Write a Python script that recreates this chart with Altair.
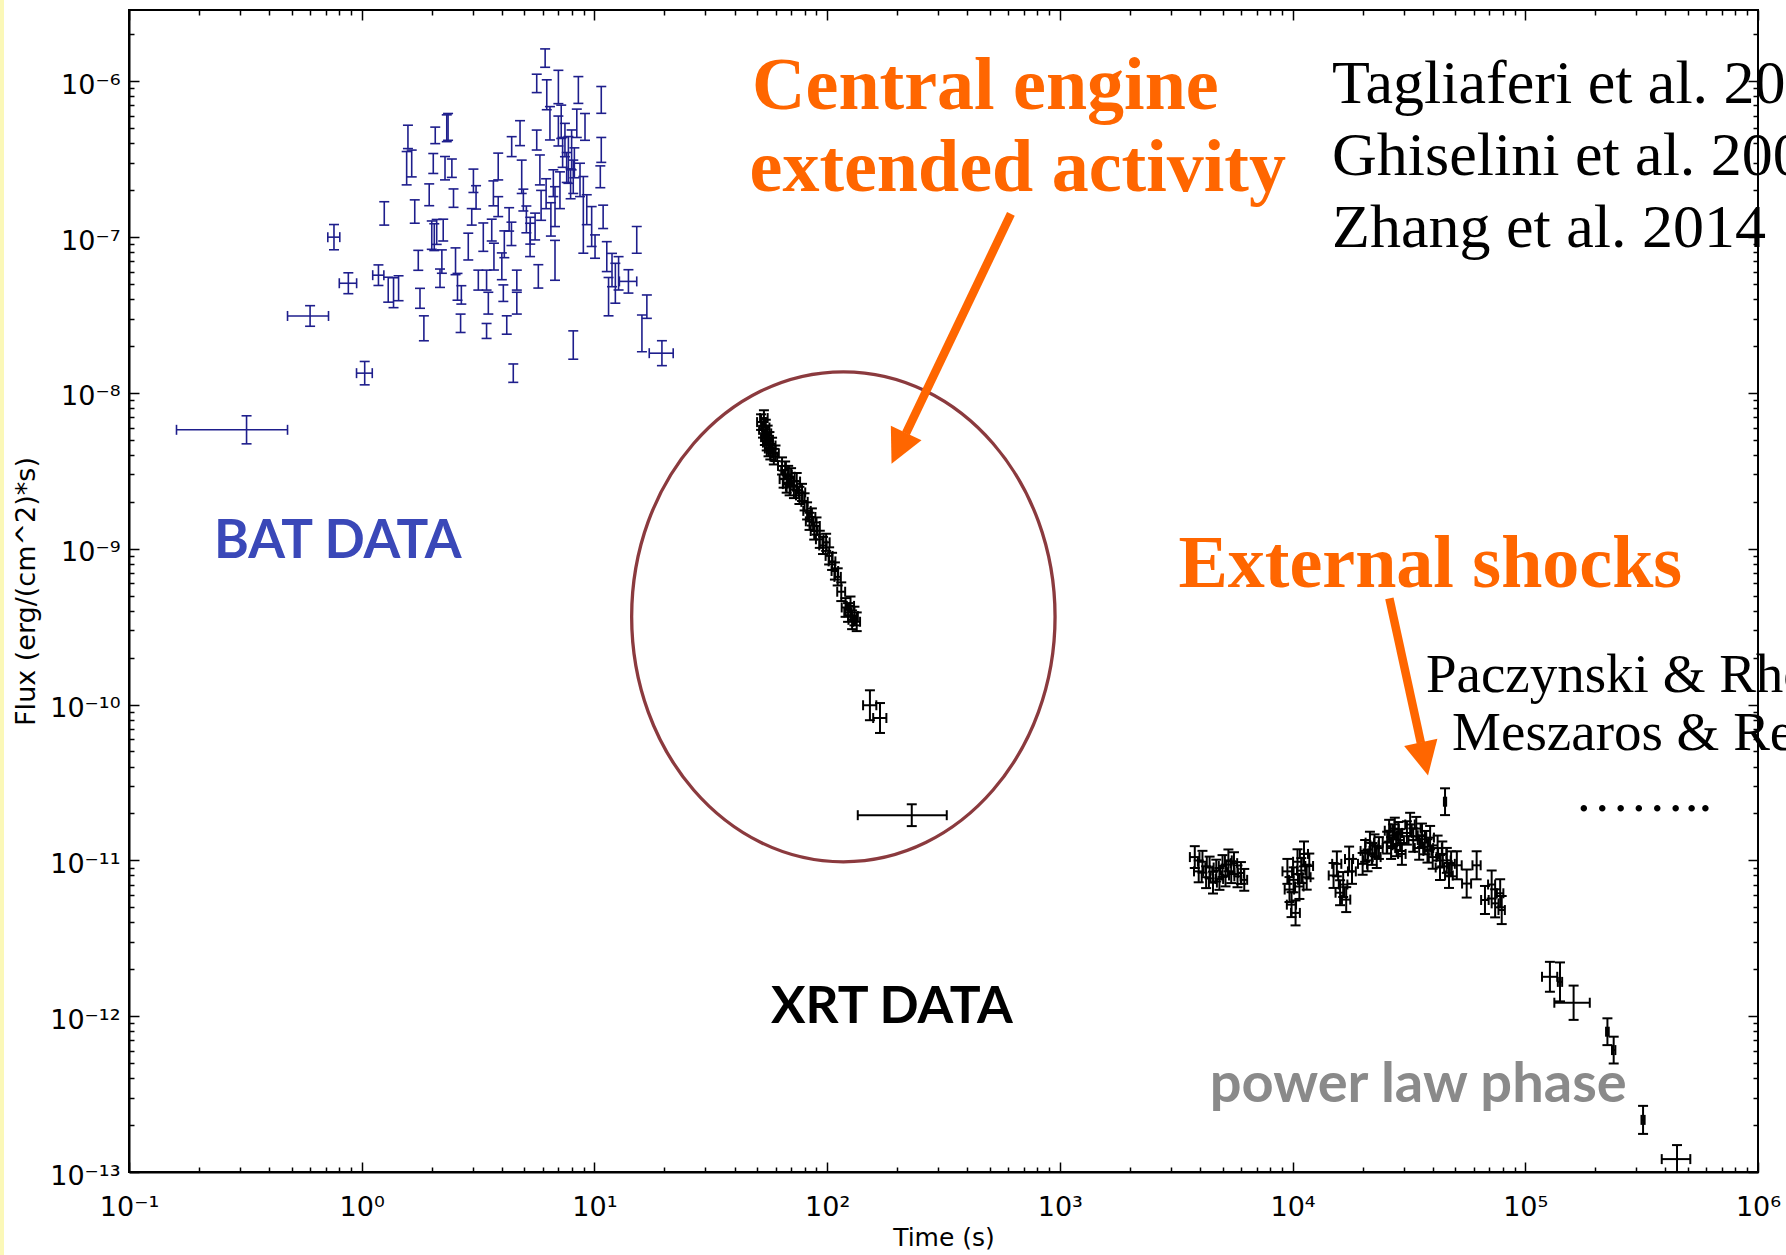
import json
import altair as alt
import pandas as pd

# ---------------------------------------------------------------------------
# BAT light curve: time (s), flux (erg/cm^2/s), flux error half-width (dex),
# time error half-width (s, 0 where no horizontal bar is drawn)
# ---------------------------------------------------------------------------
bat_time = [0.32, 0.60, 0.76, 0.876, 1.03, 1.18, 1.25, 1.30, 1.37, 1.44,
            1.58, 1.56, 1.64, 1.69, 1.75, 1.78, 1.85, 1.95, 2.00, 2.05,
            2.10, 2.07, 2.03, 2.24, 2.21, 2.17, 2.28, 2.35, 2.32, 2.44,
            2.48, 2.53, 2.58, 2.68, 2.66, 2.87, 2.97, 3.02, 3.10, 3.17,
            3.33, 3.44, 3.50, 3.44, 3.62, 3.68, 3.70, 3.86, 3.86, 4.00,
            4.06, 4.10, 4.20, 4.41, 4.30, 4.40, 4.48, 4.64, 4.64, 4.79,
            4.87, 4.95, 5.10, 5.30, 5.29, 5.56, 5.74, 5.65, 5.83, 5.90,
            5.65, 6.14, 6.20, 6.24, 6.44, 6.50, 6.66, 6.77, 6.77, 7.00,
            7.00, 7.11, 7.20, 7.30, 7.47, 7.60, 7.73, 7.90, 7.98, 8.11,
            8.11, 8.20, 8.40, 8.53, 8.67, 8.96, 9.11, 9.27, 9.73, 10.06,
            10.6, 10.7, 10.7, 10.9, 11.3, 11.5, 11.9, 12.3, 12.7, 14.0,
            15.2, 16.0, 16.8, 19.5]
bat_flux = [5.8e-9, 3.12e-8, 1.0e-7, 5.06e-8, 1.34e-8, 5.7e-8, 1.42e-7, 4.6e-8, 4.4e-8, 4.7e-8,
            4.4e-7, 2.77e-7, 2.97e-7, 1.46e-7, 7.1e-8, 4.05e-8, 2.6e-8, 1.87e-7, 1.03e-7, 1.0e-7,
            1.08e-7, 4.5e-7, 2.97e-7, 1.11e-7, 6.97e-8, 5.45e-8, 2.77e-7, 5.1e-7, 5.0e-7, 2.77e-7,
            1.78e-7, 7.0e-8, 4.8e-8, 4.26e-8, 2.8e-8, 8.7e-8, 1.35e-7, 2.3e-7, 1.8e-7, 5.3e-8,
            1.0e-7, 5.3e-8, 3.77e-8, 2.5e-8, 1.11e-7, 1.91e-7, 7.5e-8, 2.84e-7, 1.57e-7, 6.5e-8,
            4.37e-8, 9.0e-8, 2.73e-8, 3.81e-7, 1.3e-7, 1.05e-7, 1.34e-8, 5.3e-8, 3.77e-8, 4.65e-7,
            2.44e-7, 1.73e-7, 1.3e-7, 1.1e-7, 9.6e-8, 1.17e-7, 5.6e-8, 4.2e-7, 2.7e-7, 1.6e-7,
            9.7e-7, 1.41e-6, 1.9e-7, 8.2e-7, 5.38e-7, 1.3e-7, 2.22e-7, 1.57e-7, 7.1e-8, 9.2e-7,
            4.8e-7, 2.0e-7, 5.5e-7, 3.5e-7, 4.2e-7, 2.8e-7, 3.13e-7, 2.2e-7, 3.63e-7, 2.44e-7,
            2.03e-8, 3.0e-7, 5.38e-7, 8.8e-7, 2.33e-7, 1.39e-7, 5.1e-7, 1.5e-7, 1.17e-7, 8.7e-8,
            2.44e-7, 7.6e-7, 3.63e-7, 1.35e-7, 7.5e-8, 4.15e-8, 6.15e-8, 5.06e-8, 5.86e-8, 5.2e-8,
            9.6e-8, 2.41e-8, 3.58e-8, 1.8e-8]
bat_err_dex = [0.090, 0.066, 0.081, 0.067, 0.075, 0.066, 0.075, 0.080, 0.096, 0.080,
               0.075, 0.107, 0.086, 0.075, 0.064, 0.064, 0.080, 0.070, 0.091, 0.086,
               0.080, 0.053, 0.064, 0.070, 0.075, 0.059, 0.075, 0.086, 0.086, 0.059,
               0.059, 0.086, 0.086, 0.059, 0.059, 0.086, 0.053, 0.075, 0.075, 0.064,
               0.091, 0.064, 0.070, 0.048, 0.070, 0.080, 0.086, 0.086, 0.064, 0.086,
               0.053, 0.086, 0.059, 0.064, 0.075, 0.075, 0.059, 0.064, 0.070, 0.080,
               0.107, 0.070, 0.086, 0.086, 0.107, 0.086, 0.075, 0.064, 0.096, 0.096,
               0.059, 0.059, 0.096, 0.096, 0.107, 0.107, 0.086, 0.128, 0.128, 0.107,
               0.096, 0.118, 0.107, 0.096, 0.107, 0.096, 0.150, 0.096, 0.128, 0.107,
               0.091, 0.096, 0.091, 0.086, 0.107, 0.246, 0.086, 0.096, 0.128, 0.075,
               0.070, 0.086, 0.080, 0.075, 0.096, 0.123, 0.107, 0.128, 0.107, 0.075,
               0.086, 0.118, 0.075, 0.080]
bat_time_err = [0.16, 0.12, 0.045, 0.075, 0.08, 0.065] + [0.0] * 103 + [1.2, 0.0, 0.0, 0.0, 2.3]

# ---------------------------------------------------------------------------
# XRT light curve: steep decay, plateau and late power-law decay
# ---------------------------------------------------------------------------
xrt_time = [52, 53, 53.5, 54, 54.5, 55, 55.5, 56, 56.5, 57, 58, 59, 60,
            64, 65, 66, 67, 68, 69, 70, 72, 74, 76, 78, 80,
            82, 84, 86, 88, 90,
            93, 96, 99, 102, 105, 108, 111,
            115, 120, 123, 126, 128, 131, 134,
            152.7, 168.7, 231,
            3800, 3950, 4100, 4250, 4400, 4550, 4700, 4850, 5000, 5150, 5300, 5450, 5600, 5800, 6000, 6200,
            9500, 9700, 9900, 10100, 10300, 10500, 10700, 10900, 11200, 11500, 11800,
            15000, 15500, 16000, 16500, 17000, 17500, 18000,
            20000, 20500, 21000, 21500, 22000, 22500, 23000, 23500,
            25500, 26000, 26500, 27000, 27500, 28000, 28500, 29000, 29500,
            31000, 32000, 33000, 34000, 35000, 36000, 37000, 38000, 39000, 40000, 45200,
            42000, 43000, 44000, 46000, 47000, 48000,
            50800, 56000, 61800, 67100, 71700, 74200, 78000, 79200,
            127600, 141000, 161300, 225400, 239800, 320700, 448800]
xrt_flux = [6.5e-9, 5.8e-9, 6.9e-9, 5.2e-9, 6.0e-9, 4.8e-9, 5.5e-9, 4.4e-9, 5.0e-9, 4.2e-9, 4.6e-9, 3.9e-9, 4.1e-9,
            3.4e-9, 2.8e-9, 3.2e-9, 2.6e-9, 3.0e-9, 2.5e-9, 2.9e-9, 2.4e-9, 2.7e-9, 2.2e-9, 2.3e-9, 2.0e-9,
            1.75e-9, 1.5e-9, 1.6e-9, 1.3e-9, 1.4e-9,
            1.15e-9, 1.05e-9, 1.1e-9, 9.0e-10, 8.3e-10, 7.2e-10, 6.6e-10,
            5.3e-10, 4.2e-10, 3.9e-10, 4.3e-10, 3.5e-10, 3.7e-10, 3.4e-10,
            9.9e-11, 8.2e-11, 1.95e-11,
            1.05e-11, 8.5e-12, 9.8e-12, 7.8e-12, 9.0e-12, 7.2e-12, 8.6e-12, 7.6e-12, 9.2e-12, 8.0e-12, 1.0e-11, 8.4e-12, 9.6e-12, 7.9e-12, 8.3e-12, 7.5e-12,
            8.5e-12, 6.5e-12, 5.2e-12, 7.5e-12, 4.6e-12, 9.8e-12, 6.8e-12, 8.6e-12, 1.1e-11, 7.8e-12, 9.2e-12,
            8.0e-12, 9.5e-12, 6.2e-12, 7.0e-12, 5.6e-12, 1.02e-11, 8.5e-12,
            9.5e-12, 1.15e-11, 1.0e-11, 1.3e-11, 1.1e-11, 1.25e-11, 1.05e-11, 1.2e-11,
            1.3e-11, 1.55e-11, 1.2e-11, 1.45e-11, 1.6e-11, 1.25e-11, 1.5e-11, 1.35e-11, 1.1e-11,
            1.5e-11, 1.7e-11, 1.35e-11, 1.6e-11, 1.2e-11, 1.45e-11, 1.3e-11, 1.15e-11, 1.4e-11, 1.05e-11, 2.38e-11,
            1.2e-11, 9.0e-12, 1.1e-11, 1.0e-11, 8.0e-12, 9.5e-12,
            9.3e-12, 7.1e-12, 9.3e-12, 5.57e-12, 7.0e-12, 5.3e-12, 6.15e-12, 4.8e-12,
            1.79e-12, 1.66e-12, 1.22e-12, 7.95e-13, 6.06e-13, 2.16e-13, 1.21e-13]
xrt_err_dex = ([0.05] * 13 + [0.055] * 12 + [0.055] * 5 + [0.055] * 7 + [0.06] * 7
               + [0.096, 0.096, 0.07]
               + [0.07] * 16 + [0.08] * 11 + [0.08] * 7 + [0.07] * 8 + [0.07] * 9
               + [0.075] * 10 + [0.086]
               + [0.08] * 6 + [0.09] * 8
               + [0.096, 0.125, 0.11, 0.086, 0.086, 0.09, 0.09])
xrt_time_err = ([2.0] * 13 + [2.5] * 12 + [3.0] * 5 + [3.5] * 7 + [4.5] * 7
                + [10, 11, 95.6]
                + [180] * 16 + [450] * 11 + [700] * 7 + [900] * 8 + [1100] * 9
                + [1500] * 10 + [500]
                + [1800] * 6 + [2500] * 8
                + [9600, 3000, 28000, 3000, 4000, 5000, 63000])

# Axis decades (exponents of the labelled ticks)
x_exponents = list(range(-1, 7))
y_exponents = list(range(-13, -5))
x_axis_title = "Time (s)"
y_axis_title = "Flux (erg/(cm^2)*s)"

# Annotation texts with their anchor positions (time, flux)
orange_labels = ["Central engine", "extended activity", "External shocks"]
orange_time = [47.6, 46.4, 3233]
orange_flux = [6.65e-7, 1.98e-7, 5.71e-10]

ref_labels = ["Tagliaferi et al. 2005", "Ghiselini et al. 2007", "Zhang et al. 2014"]
ref_time = [14780, 14780, 14780]
ref_flux = [7.27e-7, 2.506e-7, 8.69e-8]

ext_labels = ["Paczynski & Rhoads 1993", "Meszaros & Rees 1997", "\u2026\u2026.."]
ext_time = [37400, 48470, 163000]
ext_flux = [1.21e-10, 5.11e-11, 2.07e-11]

phase_labels = ["BAT DATA", "XRT DATA", "power law phase"]
phase_colors = ["#3a48b8", "#000000", "#8a8a8a"]
phase_sizes = [53, 51.5, 56]
phase_time = [0.2318, 57.4, 4404]
phase_flux = [8.73e-10, 9.04e-13, 2.83e-13]

# Ellipse around the steep-decay phase (centre) and the two arrows
ellipse_time = [117.4]
ellipse_flux = [3.66e-10]
arrow_start_time = [616, 26060]
arrow_start_flux = [1.41e-7, 4.81e-10]
arrow_end_time = [218.1, 35590]
arrow_end_flux = [5.50e-9, 5.68e-11]
arrow_head_time = [203.3, 36850]
arrow_head_flux = [4.41e-9, 4.48e-11]
arrow_head_angle = [205.5, 167.7]

# ---------------------------------------------------------------------------
W, H = 1629, 1162
PAD = {"left": 129, "top": 10, "right": 28, "bottom": 83}
ORANGE = "#ff6600"
BAT_COLOR = "#1e1e8c"

SUP = str.maketrans("-0123456789", "\u207b\u2070\u00b9\u00b2\u00b3\u2074\u2075\u2076\u2077\u2078\u2079")


def decade_labels(exps):
    return ["10" + str(e).translate(SUP) for e in exps]


def minor_ticks(exps, upper):
    vals = []
    for e in exps:
        for k in range(1, 10):
            v = k * 10.0 ** e
            if v <= upper * 1.0001:
                vals.append(v)
    return vals


x_min, x_max = 10.0 ** x_exponents[0], 10.0 ** x_exponents[-1]
y_min, y_max = 10.0 ** y_exponents[0], 2.87e-6
x_ticks = minor_ticks(x_exponents, x_max)
y_ticks = minor_ticks(y_exponents, y_max)

IS_DECADE = "abs(log(datum.value)/LN10 - round(log(datum.value)/LN10)) < 0.001"


def label_expr(exps):
    arr = json.dumps(decade_labels(exps), ensure_ascii=False)
    return f"({IS_DECADE}) ? {arr}[round(log(datum.value)/LN10) - ({exps[0]})] : ''"


TICK_SIZE = {"condition": {"test": IS_DECADE, "value": 10}, "value": 5}

xs = alt.Scale(type="log", domain=[x_min, x_max], nice=False)
ys = alt.Scale(type="log", domain=[y_min, y_max], nice=False)

label_style = dict(labelFont="DejaVu Sans", labelFontSize=27, labelColor="black",
                   labelOverlap=False, labelFlush=False, grid=False, ticks=False,
                   tickSize=0, domain=True, domainColor="black", domainWidth=2,
                   titleFont="DejaVu Sans", titleFontWeight="normal", titleColor="black")

x_main = alt.Axis(orient="bottom", values=x_ticks, labelExpr=label_expr(x_exponents),
                  labelPadding=22, title=x_axis_title, titleFontSize=25,
                  titlePadding=5, **label_style)
y_main = alt.Axis(orient="left", values=y_ticks, labelExpr=label_expr(y_exponents),
                  labelPadding=9, labelOffset=4, title=y_axis_title, titleFontSize=27,
                  titlePadding=9, **label_style)

# Inward-pointing ticks on all four sides of the frame
tick_style = dict(labels=False, domain=False, grid=False, title=None, tickColor="black",
                  tickWidth=1.5, tickSize=TICK_SIZE)
x_ticks_bottom = alt.Axis(orient="top", offset=-H, values=x_ticks, **tick_style)
x_ticks_top = alt.Axis(orient="bottom", offset=-H, values=x_ticks, **tick_style)
y_ticks_left = alt.Axis(orient="right", offset=-W, values=y_ticks, **tick_style)
y_ticks_right = alt.Axis(orient="left", offset=-W, values=y_ticks, **tick_style)


def make_frame(time, flux, err_dex, time_err):
    df = pd.DataFrame({"time": time, "flux": flux, "dex": err_dex, "terr": time_err})
    df["flo"] = df["flux"] / 10 ** df["dex"]
    df["fhi"] = df["flux"] * 10 ** df["dex"]
    df["tlo"] = df["time"] - df["terr"]
    df["thi"] = df["time"] + df["terr"]
    return df


def error_bars(df, color, cap, lw, axes=None):
    """Vertical and horizontal error bars with end caps."""
    ax = axes or {}
    vrule = alt.Chart(df).mark_rule(color=color, strokeWidth=lw, clip=True).encode(
        x=alt.X("time:Q", scale=xs, axis=ax.get("x0")),
        y=alt.Y("flo:Q", scale=ys, axis=ax.get("y0")),
        y2="fhi:Q",
    )
    cap_lo = alt.Chart(df).mark_tick(color=color, orient="horizontal", size=cap,
                                     thickness=lw, opacity=1, clip=True).encode(
        x=alt.X("time:Q", scale=xs, axis=ax.get("x1")),
        y=alt.Y("flo:Q", scale=ys, axis=ax.get("y1")),
    )
    cap_hi = alt.Chart(df).mark_tick(color=color, orient="horizontal", size=cap,
                                     thickness=lw, opacity=1, clip=True).encode(
        x=alt.X("time:Q", scale=xs, axis=ax.get("x2")),
        y=alt.Y("fhi:Q", scale=ys, axis=ax.get("y2")),
    )
    hdf = df[df["terr"] > 0]
    hrule = alt.Chart(hdf).mark_rule(color=color, strokeWidth=lw, clip=True).encode(
        x=alt.X("tlo:Q", scale=xs, axis=None),
        x2="thi:Q",
        y=alt.Y("flux:Q", scale=ys, axis=None),
    )
    hcap_lo = alt.Chart(hdf).mark_tick(color=color, orient="vertical", size=cap,
                                       thickness=lw, opacity=1, clip=True).encode(
        x=alt.X("tlo:Q", scale=xs, axis=None),
        y=alt.Y("flux:Q", scale=ys, axis=None),
    )
    hcap_hi = alt.Chart(hdf).mark_tick(color=color, orient="vertical", size=cap,
                                       thickness=lw, opacity=1, clip=True).encode(
        x=alt.X("thi:Q", scale=xs, axis=None),
        y=alt.Y("flux:Q", scale=ys, axis=None),
    )
    return [vrule, cap_lo, cap_hi, hrule, hcap_lo, hcap_hi]


bat = make_frame(bat_time, bat_flux, bat_err_dex, bat_time_err)
xrt = make_frame(xrt_time, xrt_flux, xrt_err_dex, xrt_time_err)

bat_layers = error_bars(bat, BAT_COLOR, 10, 1.6, axes={
    "x0": x_main, "y0": y_main,
    "x1": x_ticks_bottom, "y1": y_ticks_left,
    "x2": x_ticks_top, "y2": y_ticks_right,
})
xrt_layers = error_bars(xrt, "black", 10, 2.0)


def text_layer(labels, time, flux, **style):
    df = pd.DataFrame({"label": labels, "time": time, "flux": flux})
    return alt.Chart(df).mark_text(align="left", baseline="alphabetic", **style).encode(
        x=alt.X("time:Q", scale=xs, axis=None),
        y=alt.Y("flux:Q", scale=ys, axis=None),
        text="label:N",
    )


orange_text = text_layer(orange_labels, orange_time, orange_flux, font="Liberation Serif",
                         fontWeight="bold", fontSize=74, color=ORANGE)
ref_text = text_layer(ref_labels, ref_time, ref_flux, font="Liberation Serif",
                      fontSize=62, color="black")
ext_text = text_layer(ext_labels, ext_time, ext_flux, font="Liberation Serif",
                      fontSize=55, color="black")
phase_df = pd.DataFrame({"label": phase_labels, "time": phase_time, "flux": phase_flux,
                         "color": phase_colors, "size": phase_sizes})
phase_text = alt.Chart(phase_df).mark_text(align="left", baseline="alphabetic", font="Lato",
                                           fontWeight="bold").encode(
    x=alt.X("time:Q", scale=xs, axis=None),
    y=alt.Y("flux:Q", scale=ys, axis=None),
    text="label:N",
    color=alt.Color("color:N", scale=None),
    size=alt.Size("size:Q", scale=None),
)

# Ellipse: unit path with the horizontal/vertical radius ratio baked in
RX, RY = 211.7, 245.0
a = RX / RY
ellipse_path = f"M {-a:.4f} 0 A {a:.4f} 1 0 1 1 {a:.4f} 0 A {a:.4f} 1 0 1 1 {-a:.4f} 0 Z"
ellipse = alt.Chart(pd.DataFrame({"time": ellipse_time, "flux": ellipse_flux})).mark_point(
    shape=ellipse_path, size=(2 * RY) ** 2, filled=False, stroke="#8b3a3e",
    strokeWidth=3.3, opacity=1,
).encode(
    x=alt.X("time:Q", scale=xs, axis=None),
    y=alt.Y("flux:Q", scale=ys, axis=None),
)

arrows_df = pd.DataFrame({
    "t0": arrow_start_time, "f0": arrow_start_flux,
    "t1": arrow_end_time, "f1": arrow_end_flux,
    "th": arrow_head_time, "fh": arrow_head_flux, "angle": arrow_head_angle,
})
arrow_shafts = alt.Chart(arrows_df).mark_rule(color=ORANGE, strokeWidth=8.5).encode(
    x=alt.X("t0:Q", scale=xs, axis=None), x2="t1:Q",
    y=alt.Y("f0:Q", scale=ys, axis=None), y2="f1:Q",
)
arrow_heads = alt.Chart(arrows_df).mark_point(
    shape="M 0 -1 L 1 1 L -1 1 Z", filled=True, fill=ORANGE, strokeWidth=0,
    size=34 ** 2, opacity=1,
).encode(
    x=alt.X("th:Q", scale=xs, axis=None),
    y=alt.Y("fh:Q", scale=ys, axis=None),
    angle=alt.Angle("angle:Q", scale=None),
)

# Pale yellow strip along the left edge of the page
edge_strip = alt.Chart(pd.DataFrame({"k": [0]})).mark_rect(color="#fbf8b8").encode(
    x=alt.value(-PAD["left"]), x2=alt.value(-PAD["left"] + 4),
    y=alt.value(-PAD["top"]), y2=alt.value(H + PAD["bottom"]),
)

chart = alt.layer(
    edge_strip, *bat_layers, *xrt_layers, ellipse, arrow_shafts, arrow_heads,
    orange_text, ref_text, ext_text, phase_text,
).resolve_axis(
    x="independent", y="independent"
).properties(
    width=W, height=H,
    autosize=alt.AutoSizeParams(type="none"),
    padding=PAD,
    background="white",
).configure_view(
    stroke="black", strokeWidth=2
)

chart.save("out.html", embed_options={"renderer": "svg", "actions": False})
